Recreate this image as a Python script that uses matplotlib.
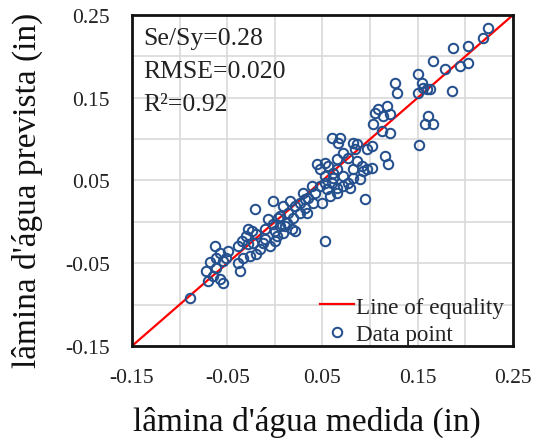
import matplotlib
matplotlib.use("Agg")
import matplotlib.pyplot as plt
import numpy as np

# measured (x) and predicted (y) water depth, inches
measured = [
    -0.0893, -0.068, -0.0718, -0.0648, -0.070, -0.0613, -0.0578, -0.0543, -0.0613, -0.0543,
    -0.063, -0.049, -0.0508, -0.0578, -0.0385, -0.035, -0.0298, -0.0245, -0.0193, -0.028,
    -0.0228, -0.0385, -0.0333, -0.0368, -0.0263, -0.0193, -0.0158, -0.0123, -0.028, -0.021,
    -0.0105, 0.0, 0.0088, 0.0175, 0.021, -0.0105, 0.0, -0.0053, 0.0035, -0.007,
    -0.0018, 0.0053, 0.0123, 0.0193, 0.0263, 0.0315, -0.0018, 0.0158, 0.021, 0.0088,
    0.014, 0.0298, 0.035, 0.0263, 0.0403, 0.049, 0.0473, 0.0543, 0.042, 0.0578,
    0.0648, 0.056, 0.0613, 0.0525, 0.0595, 0.0648, 0.0438, 0.0525,
    0.105, 0.1173, 0.1138, 0.1208, 0.1033, 0.112, 0.1208, 0.0595, 0.0683, 0.0665,
    0.0823, 0.0858, 0.084, 0.0963, 0.1015, 0.0718, 0.077, 0.0648, 0.0525, 0.0473,
    0.0858, 0.091, 0.0823, 0.0963, 0.1015, 0.1155, 0.119, 0.0613, 0.0525, 0.0718,
    0.077, 0.0823, 0.0893, 0.0928, 0.0718, 0.0788, 0.0648, 0.0945,
    0.1873, 0.203, 0.1663, 0.1785, 0.1943, 0.203, 0.1505, 0.154, 0.1558, 0.1593,
    0.1628, 0.1505, 0.1855, 0.126, 0.1278, 0.161, 0.1575, 0.1663, 0.1515,
    0.224, 0.2188, 0.1085, 0.0018, 0.0385, 0.0333, 0.0053, 0.0105, 0.0315,
]
predicted = [
    -0.0917, -0.049, -0.0594, -0.0655, -0.0715, -0.0554, -0.0695, -0.0735, -0.0433, -0.0474,
    -0.0292, -0.0353, -0.0433, -0.0373, -0.0292, -0.0232, -0.0171, -0.0111, -0.0151, -0.0272,
    -0.0252, -0.0494, -0.0433, -0.0594, -0.0413, -0.0393, -0.0332, -0.0252, -0.0083, 0.0159,
    -0.0091, -0.0111, -0.0131, -0.0091, -0.0111, -0.0212, -0.0232, -0.0292, 0.005, 0.003,
    -0.003, -0.005, -0.001, 0.005, 0.0111, 0.0171, 0.0252, 0.0252, 0.0191, 0.0191,
    0.0111, 0.0353, 0.0292, 0.0232, 0.0232, 0.0232, 0.0433, 0.0393, 0.0353, 0.0312,
    0.0353, 0.0675, 0.0594, 0.0554, 0.0474, 0.0635, 0.0695, -0.0232,
    0.132, 0.140, 0.128, 0.130, 0.1179, 0.110, 0.1078, 0.1018, 0.1018, 0.0957,
    0.0957, 0.0937, 0.0877, 0.0877, 0.0917, 0.0836, 0.0776, 0.0756, 0.0715, 0.0635,
    0.0736, 0.0675, 0.0635, 0.0635, 0.0655, 0.0796, 0.0695, 0.0534, 0.0474, 0.0554,
    0.0474, 0.0534, 0.0514, 0.0615, 0.0433, 0.0413, 0.0413, 0.028,
    0.2106, 0.2126, 0.1945, 0.1844, 0.1884, 0.1925, 0.1783, 0.1683, 0.1622, 0.1602,
    0.1602, 0.1562, 0.1582, 0.1683, 0.1562, 0.128, 0.1179, 0.1179, 0.0926,
    0.2348, 0.2227, 0.136, -0.0171, 0.0433, 0.0111, 0.007, -0.005, 0.0272,
]
ticks = [-0.15, -0.05, 0.05, 0.15, 0.25]
tick_labels = ["-0.15", "-0.05", "0.05", "0.15", "0.25"]
grid_vals = [-0.15, -0.10, -0.05, 0.0, 0.05, 0.10, 0.15, 0.20, 0.25]
stats_text = ["Se/Sy=0.28", "RMSE=0.020", "R\u00b2=0.92"]
equality_line = [-0.15, 0.25]

plt.rcParams['font.family'] = ['Liberation Serif', 'DejaVu Serif']

fig = plt.figure(figsize=(5.4, 4.39), dpi=100)
ax = fig.add_axes([0.2444, 0.2096, 0.7056, 0.754])

for g in grid_vals:
    ax.axvline(g, color='#d9d9d9', lw=1.2, zorder=0)
    ax.axhline(g, color='#d9d9d9', lw=1.2, zorder=0)

ax.plot(equality_line, equality_line, color='#ff0000', lw=1.6, zorder=2,
        label='Line of equality')
ax.plot(measured, predicted, linestyle='none', marker='o', markersize=6.8,
        markerfacecolor='none', markeredgecolor='#24508e', markeredgewidth=1.45,
        zorder=3, label='Data point')

ax.set_xlim(-0.15, 0.25)
ax.set_ylim(-0.15, 0.25)
ax.set_xticks(ticks)
ax.set_xticklabels(tick_labels)
ax.set_yticks(ticks)
ax.set_yticklabels(tick_labels)
ax.tick_params(length=0, labelsize=15.5, colors='#222222', pad=16)
ax.tick_params(axis='x', pad=16)
for s in ax.spines.values():
    s.set_linewidth(2.0)
    s.set_color('#111111')

for i, t in enumerate(stats_text):
    fig.text(143 / 540, 1 - (45 + 33 * i) / 439, t, fontsize=18.5,
             color='#222222', ha='left', va='baseline')

leg = ax.legend(loc='lower right', bbox_to_anchor=(0.982, -0.005), frameon=False,
                fontsize=16.7, handlelength=1.45, handletextpad=0.1, borderpad=0.1,
                labelspacing=0.28, borderaxespad=0.0)
for t in leg.get_texts():
    t.set_color('#222222')

fig.text(307 / 540, 1 - 422 / 439, "l\u00e2mina d'\u00e1gua medida (in)",
         fontsize=24, ha='center', va='center', color='#111111')
fig.text(27 / 540, 1 - 190 / 439, "l\u00e2mina d'\u00e1gua prevista (in)",
         fontsize=24, ha='center', va='center', rotation=90, color='#111111')

fig.savefig('out.png', dpi=100)
